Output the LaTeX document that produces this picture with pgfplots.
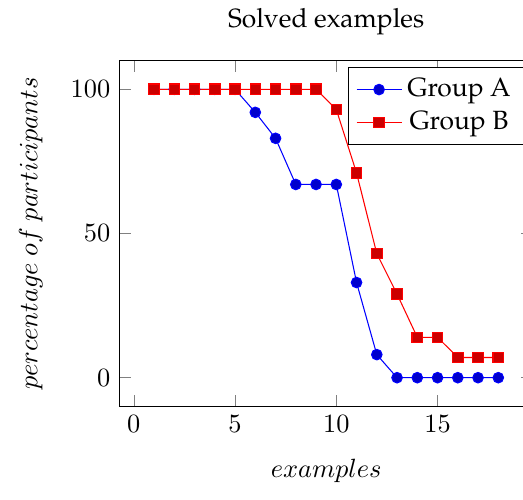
\documentclass[border=0pt]{standalone}
\usepackage[T1]{fontenc}
\renewcommand{\rmdefault}{ppl}
\usepackage{pgfplots}
\pgfplotsset{compat=1.18}
\begin{document}
\begin{tikzpicture}
\begin{axis}[
  scale only axis,
  width=156.6pt, height=131.2pt,
  title={Solved examples},
  xlabel={$examples$},
  ylabel={$percentage\ of\ participants$},
  xlabel style={inner sep=6.5pt},
  ylabel style={inner sep=7.2pt},
  xtick={0,5,10,15},
  ytick={0,50,100},
]
\addplot coordinates {(1,100)(2,100)(3,100)(4,100)(5,100)(6,92)(7,83)(8,67)(9,67)(10,67)(11,33)(12,8)(13,0)(14,0)(15,0)(16,0)(17,0)(18,0)};
\addlegendentry{Group A}
\addplot coordinates {(1,100)(2,100)(3,100)(4,100)(5,100)(6,100)(7,100)(8,100)(9,100)(10,93)(11,71)(12,43)(13,29)(14,14)(15,14)(16,7)(17,7)(18,7)};
\addlegendentry{Group B}
\coordinate (br) at (axis cs:19.22,-10);
\end{axis}
\pgfresetboundingbox
\path (current axis.outer south west) rectangle (br |- current axis.outer north east);
\end{tikzpicture}
\end{document}
